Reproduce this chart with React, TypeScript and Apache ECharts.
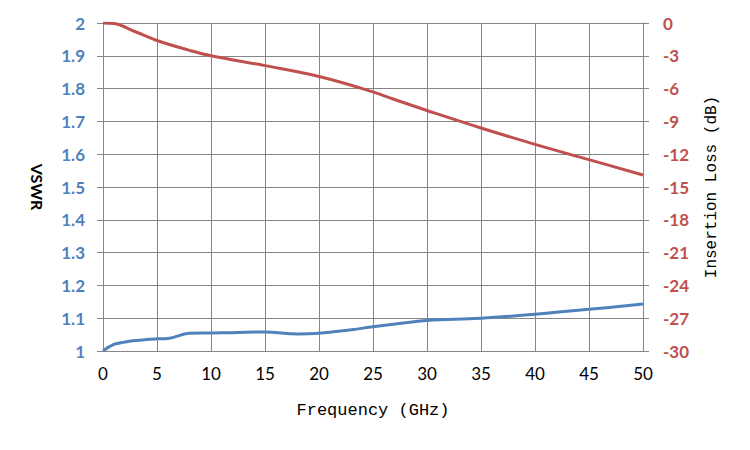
import React, { useEffect, useRef } from "react";
import * as echarts from "echarts";

const vswrFreq = [0, 1, 2, 3, 5, 6, 8, 10, 12, 15, 18, 20, 23, 25, 28, 30, 35, 40, 45, 50];
const vswrValues = [1.0, 1.02, 1.027, 1.032, 1.037, 1.038, 1.054, 1.055, 1.056, 1.058, 1.052, 1.054, 1.065, 1.074, 1.086, 1.093, 1.1, 1.112, 1.127, 1.143];

const lossFreq = [0, 1, 3, 5, 8, 10, 15, 20, 25, 27, 30, 35, 40, 45, 50];
const lossValues = [0, -0.05, -0.8, -1.6, -2.5, -3.0, -3.9, -4.9, -6.3, -7.0, -8.0, -9.6, -11.1, -12.5, -13.9];

const vswrTicks = { min: 1, max: 2, interval: 0.1 };
const lossTicks = { min: -30, max: 0, interval: 3 };
const freqTicks = { min: 0, max: 50, interval: 5 };

const BLUE = "#4F81BD";
const RED = "#C0504D";
const GRID = "#868686";

export default function App() {
  const ref = useRef<HTMLDivElement>(null);
  useEffect(() => {
    if (!ref.current) return;
    const chart = echarts.init(ref.current, undefined, { renderer: "svg" });
    chart.setOption({
      animation: false,
      grid: { left: 103, right: 107, top: 23, bottom: 99 },
      xAxis: {
        type: "value",
        min: freqTicks.min,
        max: freqTicks.max,
        interval: freqTicks.interval,
        name: "Frequency (GHz)",
        nameLocation: "middle",
        nameGap: 51,
        nameTextStyle: { fontFamily: "Liberation Mono", fontSize: 17, color: "#000" },
        axisLine: { show: true, lineStyle: { color: GRID, width: 1 } },
        axisTick: { show: true, length: 6, lineStyle: { color: GRID } },
        axisLabel: { fontFamily: "Lato", fontSize: 17, color: "#000", margin: 14 },
        splitLine: { show: true, lineStyle: { color: GRID, width: 1 } },
      },
      yAxis: [
        {
          type: "value",
          position: "left",
          min: vswrTicks.min,
          max: vswrTicks.max,
          interval: vswrTicks.interval,
          name: "VSWR",
          nameLocation: "middle",
          nameRotate: -90,
          nameGap: 58,
          nameTextStyle: { fontFamily: "Lato", fontWeight: "bold", fontSize: 16, color: "#000" },
          axisLine: { show: true, lineStyle: { color: GRID, width: 1 } },
          axisTick: { show: true, length: 6, lineStyle: { color: GRID } },
          axisLabel: {
            fontFamily: "Lato",
            fontWeight: "bold",
            fontSize: 17,
            color: BLUE,
            margin: 18,
            formatter: (v: number) => String(Math.round(v * 10) / 10),
          },
          splitLine: { show: true, lineStyle: { color: GRID, width: 1 } },
        },
        {
          type: "value",
          position: "right",
          min: lossTicks.min,
          max: lossTicks.max,
          interval: lossTicks.interval,
          name: "Insertion Loss (dB)",
          nameLocation: "middle",
          nameRotate: 90,
          nameGap: 61,
          nameTextStyle: { fontFamily: "Liberation Mono", fontSize: 16, color: "#000" },
          axisLine: { show: true, lineStyle: { color: GRID, width: 1 } },
          axisTick: { show: true, length: 6, lineStyle: { color: GRID } },
          axisLabel: { fontFamily: "Lato", fontWeight: "bold", fontSize: 17, color: RED, margin: 20 },
          splitLine: { show: false },
        },
      ],
      series: [
        {
          type: "line",
          name: "VSWR",
          yAxisIndex: 0,
          smooth: 0.4,
          showSymbol: false,
          lineStyle: { color: BLUE, width: 3 },
          itemStyle: { color: BLUE },
          data: vswrFreq.map((f, i) => [f, vswrValues[i]]),
        },
        {
          type: "line",
          name: "Insertion Loss",
          yAxisIndex: 1,
          smooth: 0.4,
          showSymbol: false,
          lineStyle: { color: RED, width: 3 },
          itemStyle: { color: RED },
          data: lossFreq.map((f, i) => [f, lossValues[i]]),
        },
      ],
    });
    return () => chart.dispose();
  }, []);
  return (
    <div
      ref={ref}
      style={{ position: "fixed", left: 0, top: 0, width: 750, height: 450, background: "#fff" }}
    />
  );
}
